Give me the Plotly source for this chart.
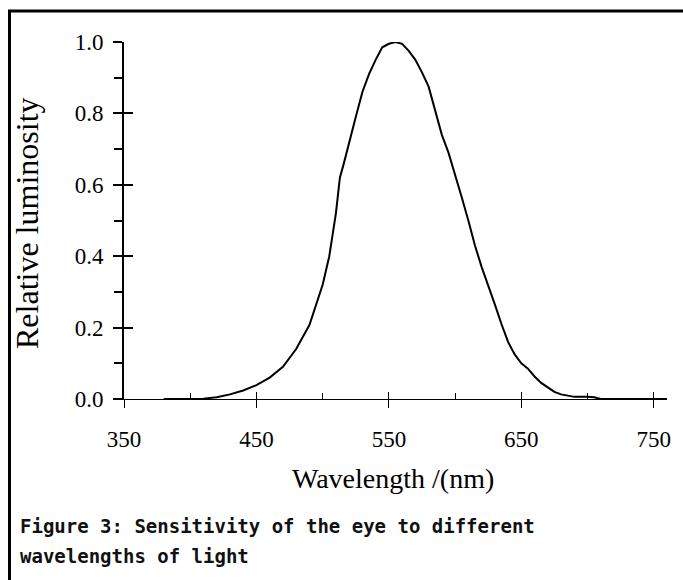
import plotly.graph_objects as go

# Data
wavelength_nm = [380, 390, 400, 410, 420, 430, 440, 450, 460, 470, 480, 490,
                 500, 505, 510, 513, 516, 520, 525, 530, 535, 540, 545, 550,
                 555, 560, 565, 570, 575, 580, 585, 590, 595, 600, 605, 610,
                 615, 620, 625, 630, 635, 640, 645, 650, 655, 660, 665, 670,
                 675, 680, 690, 700, 705, 710, 720, 740, 760]
luminosity = [0, 0, 0, 0.001, 0.005, 0.013, 0.024, 0.039, 0.06, 0.09, 0.14, 0.207,
              0.32, 0.40, 0.52, 0.62, 0.66, 0.72, 0.79, 0.86, 0.91, 0.95, 0.985, 0.995,
              1.0, 0.995, 0.975, 0.95, 0.915, 0.875, 0.81, 0.74, 0.69, 0.63, 0.565, 0.50,
              0.43, 0.37, 0.32, 0.265, 0.21, 0.16, 0.125, 0.10, 0.085, 0.063, 0.045, 0.032,
              0.02, 0.013, 0.006, 0.006, 0.005, 0.0, 0.0, 0.0, 0.0]

x_ticks = [350, 450, 550, 650, 750]
x_minor = [400, 500, 600, 700]
y_ticks = [0.0, 0.2, 0.4, 0.6, 0.8, 1.0]
y_tick_text = ["0.0", "0.2", "0.4", "0.6", "0.8", "1.0"]
y_minor = [0.1, 0.3, 0.5, 0.7, 0.9]

x_title = "Wavelength /(nm)"
y_title = "Relative luminosity"
caption_lines = ["Figure 3: Sensitivity of the eye to different",
                 "wavelengths of light"]

X_RANGE = [350, 760]
Y_RANGE = [0, 1.0]

serif = "Liberation Serif, Times New Roman, serif"
mono = "DejaVu Sans Mono, monospace"

fig = go.Figure()
fig.add_trace(go.Scatter(x=wavelength_nm, y=luminosity, mode="lines",
                         line=dict(color="black", width=2), showlegend=False,
                         hoverinfo="skip"))
# invisible trace on overlay axes so they render
fig.add_trace(go.Scatter(x=[X_RANGE[0]], y=[Y_RANGE[0]], xaxis="x2", yaxis="y2",
                         mode="markers", marker=dict(opacity=0), showlegend=False,
                         hoverinfo="skip"))

W, H = 683, 580
ML, MR, MT, MB = 124, 16, 42, 181
PW = W - ML - MR
PH = H - MT - MB

def px(xp):
    return (xp - ML) / PW

def py(yp):
    return (H - MB - yp) / PH

fig.update_layout(
    width=W, height=H,
    margin=dict(l=ML, r=MR, t=MT, b=MB, pad=0),
    paper_bgcolor="white", plot_bgcolor="white",
    xaxis=dict(range=X_RANGE, tickvals=x_ticks, ticktext=[str(v) for v in x_ticks],
               ticks="outside", ticklen=8, tickwidth=1, tickcolor="black",
               showline=True, linecolor="black", linewidth=1,
               showgrid=False, zeroline=False,
               tickfont=dict(family=serif, size=23, color="black"),
               ticklabelstandoff=11,
               minor=dict(tickvals=x_minor, ticks="inside", ticklen=6,
                          tickwidth=1, tickcolor="black", showgrid=False)),
    xaxis2=dict(range=X_RANGE, overlaying="x", anchor="y", side="bottom",
                tickvals=x_ticks, ticks="inside", ticklen=7, tickwidth=1,
                tickcolor="black", showticklabels=False, showline=False,
                showgrid=False, zeroline=False),
    yaxis=dict(range=Y_RANGE, tickvals=y_ticks, ticktext=y_tick_text,
               ticks="outside", ticklen=9, tickwidth=2, tickcolor="black",
               showline=True, linecolor="black", linewidth=2,
               showgrid=False, zeroline=False,
               tickfont=dict(family=serif, size=23, color="black"),
               ticklabelstandoff=5,
               minor=dict(tickvals=y_minor, ticks="outside", ticklen=8,
                          tickwidth=2, tickcolor="black", showgrid=False)),
    yaxis2=dict(range=Y_RANGE, overlaying="y", anchor="x", side="left",
                tickvals=y_ticks, ticks="inside", ticklen=9, tickwidth=2,
                tickcolor="black", showticklabels=False, showline=False,
                showgrid=False, zeroline=False),
)

# outer frame (cropped at right/bottom in the reference)
fig.add_shape(type="rect", xref="paper", yref="paper",
              x0=px(9.5), x1=px(700), y0=py(600), y1=py(11),
              line=dict(color="black", width=3), fillcolor="rgba(0,0,0,0)",
              layer="above")

fig.add_annotation(text=x_title, xref="paper", yref="paper",
                   x=px(393), y=py(478), xanchor="center", yanchor="middle",
                   showarrow=False, font=dict(family=serif, size=28, color="black"))
fig.add_annotation(text=y_title, xref="paper", yref="paper",
                   x=px(27), y=py(223), xanchor="center", yanchor="middle",
                   textangle=-90, showarrow=False,
                   font=dict(family=serif, size=32, color="black"))
for i, line in enumerate(caption_lines):
    fig.add_annotation(text=line, xref="paper", yref="paper",
                       x=px(18), y=py(526 + 30 * i), xanchor="left", yanchor="middle",
                       showarrow=False,
                       font=dict(family=mono, size=19, color="#111111", weight="bold"))

fig.write_html("out.html",
               config={"displayModeBar": False},
               post_script="document.body.style.margin='0';"
                           "document.body.style.overflow='hidden';")
